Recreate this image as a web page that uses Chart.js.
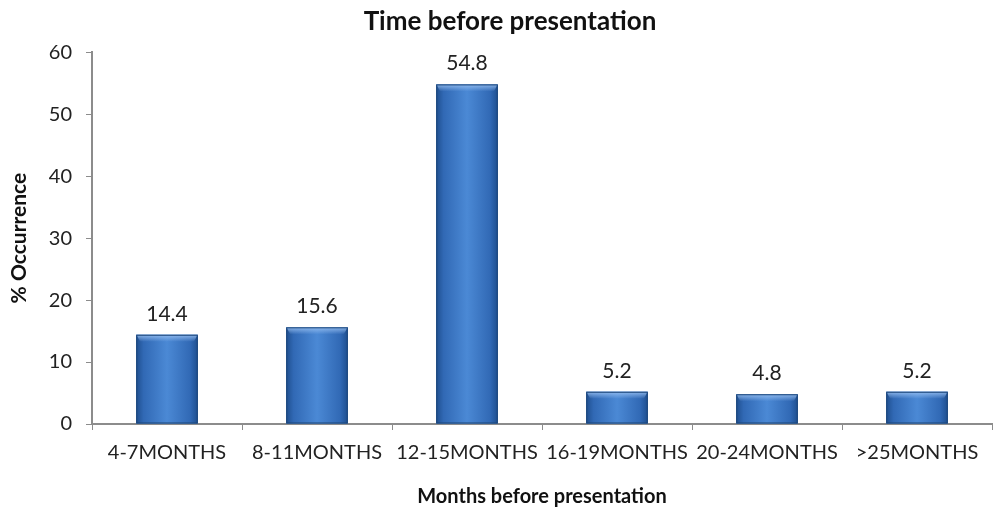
<!DOCTYPE html>
<html>
<head>
<meta charset="utf-8">
<script src="https://cdn.jsdelivr.net/npm/chart.js@4/dist/chart.umd.min.js"></script>
<style>
html,body{margin:0;padding:0;background:#fff;}
#wrap{width:995px;height:514px;position:relative;}
</style>
</head>
<body>
<div id="wrap"><canvas id="c" width="995" height="514"></canvas></div>
<script>
const categories = ["4-7MONTHS","8-11MONTHS","12-15MONTHS","16-19MONTHS","20-24MONTHS",">25MONTHS"];
const occurrence = [14.4, 15.6, 54.8, 5.2, 4.8, 5.2];
const yTicks = [0,10,20,30,40,50,60];
const chartTitle = "Time before presentation";
const xTitle = "Months before presentation";
const yTitle = "% Occurrence";

const FONT = "Lato, 'Open Sans', sans-serif";

const barStyle = {
  id: 'barStyle',
  afterDatasetsDraw(chart) {
    const ctx = chart.ctx;
    const meta = chart.getDatasetMeta(0);
    meta.data.forEach((el) => {
      const p = el.getProps(['x','y','base','width'], true);
      const l = p.x - p.width/2, r = p.x + p.width/2, t = p.y, b = p.base;
      ctx.save();
      const g = ctx.createLinearGradient(l, 0, r, 0);
      g.addColorStop(0, '#1f4f8f');
      g.addColorStop(0.12, '#3169b5');
      g.addColorStop(0.5, '#4b89d5');
      g.addColorStop(0.88, '#3169b5');
      g.addColorStop(1, '#1f4f8f');
      ctx.fillStyle = g;
      ctx.fillRect(l, t, r-l, b-t);
      const bh = Math.min(7, (b-t)/2);
      const g2 = ctx.createLinearGradient(0, t, 0, t+bh);
      g2.addColorStop(0, 'rgba(150,190,240,0.9)');
      g2.addColorStop(1, 'rgba(150,190,240,0)');
      ctx.fillStyle = g2;
      ctx.beginPath();
      ctx.moveTo(l, t); ctx.lineTo(r, t); ctx.lineTo(r-4, t+bh); ctx.lineTo(l+4, t+bh); ctx.closePath();
      ctx.fill();
      ctx.strokeStyle = '#1c4679';
      ctx.lineWidth = 1;
      ctx.strokeRect(l+0.5, t+0.5, r-l-1, b-t-1);
      ctx.restore();
    });
  }
};

const valueLabels = {
  id: 'valueLabels',
  afterDatasetsDraw(chart) {
    const ctx = chart.ctx;
    const meta = chart.getDatasetMeta(0);
    ctx.save();
    ctx.font = "21px " + FONT;
    ctx.fillStyle = '#222';
    ctx.textAlign = 'center';
    ctx.textBaseline = 'middle';
    meta.data.forEach((el, i) => {
      ctx.fillText(occurrence[i].toFixed(1), el.x, el.y - 21);
    });
    ctx.restore();
  }
};

new Chart(document.getElementById('c'), {
  type: 'bar',
  data: {
    labels: categories,
    datasets: [{
      data: occurrence,
      backgroundColor: '#3a78c8',
      borderWidth: 0,
      barPercentage: 0.41,
      categoryPercentage: 1.0
    }]
  },
  options: {
    responsive: false,
    animation: false,
    layout: { padding: { left: 28, right: 3, top: 0, bottom: 0 } },
    plugins: {
      legend: { display: false },
      tooltip: { enabled: false },
      title: {
        display: true,
        text: chartTitle,
        color: '#111',
        font: { family: FONT, size: 26, weight: 'bold' },
        padding: { top: 6, bottom: 15 }
      }
    },
    scales: {
      x: {
        grid: { display: true, drawOnChartArea: false, offset: true, tickLength: 6, color: '#8c8c8c', lineWidth: 1 },
        border: { display: true, color: '#8c8c8c', width: 2 },
        ticks: { color: '#222', font: { family: FONT, size: 20 }, padding: 11, maxRotation: 0, autoSkip: false },
        title: { display: true, text: xTitle, color: '#111', font: { family: FONT, size: 20, weight: 'bold' }, padding: { top: 4, bottom: 5 } },
        afterFit(scale) { scale.height = 90; }
      },
      y: {
        min: 0, max: 60,
        afterBuildTicks(scale) { scale.ticks = yTicks.map(v => ({ value: v })); },
        grid: { display: true, drawOnChartArea: false, tickLength: 6, color: '#8c8c8c', lineWidth: 1 },
        border: { display: true, color: '#8c8c8c', width: 2 },
        ticks: { color: '#222', font: { family: FONT, size: 20 }, padding: 14 },
        title: { display: true, text: yTitle, color: '#111', font: { family: FONT, size: 21, weight: 'bold' }, padding: { top: -21, bottom: 0 } },
        afterFit(scale) { scale.width = 64; }
      }
    }
  },
  plugins: [barStyle, valueLabels]
});
</script>
</body>
</html>
